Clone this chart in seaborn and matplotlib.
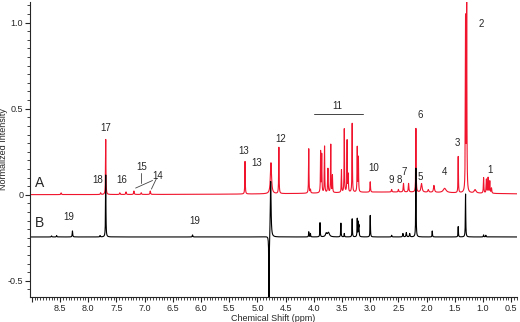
import numpy as np
import pandas as pd
import seaborn as sns
import matplotlib.pyplot as plt
from matplotlib.ticker import MultipleLocator, FuncFormatter

# peak lists (ppm, height, half width in ppm)
a_ppm = [0.85, 0.88, 0.91, 0.94, 0.99, 1.14, 1.29, 1.31, 1.44, 1.68, 1.87, 1.97, 2.09, 2.19,
         2.32, 2.41, 2.50, 2.62, 3.00, 3.21, 3.23, 3.32, 3.39, 3.41, 3.46, 3.51, 3.67,
         3.70, 3.75, 3.81, 3.86, 3.88, 4.06, 4.09, 4.62, 4.76, 5.22,
         6.90, 7.06, 7.19, 7.33, 7.44, 7.69, 7.78, 8.48, 2.6]
a_height = [0.03, 0.07, 0.09, 0.08, 0.09, 0.02, 1.08, 1.0, 0.21, 0.025, 0.04, 0.015, 0.05, 0.37,
            0.05, 0.05, 0.015, 0.015, 0.06, 0.2, 0.26, 0.4, 0.1, 0.3, 0.37, 0.13, 0.1,
            0.28, 0.14, 0.27, 0.22, 0.24, 0.02, 0.26, 0.27, 0.18, 0.19,
            0.02, 0.01, 0.02, 0.015, 0.01, 0.32, 0.01, 0.01, 0.016]
a_width = [0.006, 0.005, 0.005, 0.005, 0.005, 0.02, 0.004, 0.004, 0.004, 0.03, 0.01, 0.01, 0.012, 0.004,
           0.006, 0.006, 0.006, 0.006, 0.005, 0.004, 0.004, 0.004, 0.004, 0.004, 0.004, 0.004, 0.004,
           0.004, 0.005, 0.004, 0.004, 0.004, 0.005, 0.004, 0.004, 0.012, 0.004,
           0.006, 0.006, 0.006, 0.006, 0.006, 0.004, 0.006, 0.006, 1.6]

b_ppm = [0.95, 0.99, 1.31, 1.44, 1.90, 2.19, 2.30, 2.36, 2.42, 2.62, 3.00, 3.20, 3.21, 3.23,
         3.32, 3.46, 3.52, 3.74, 3.78, 3.89, 4.06, 4.09, 4.765, 4.795,
         6.15, 7.69, 7.79, 8.28, 8.56, 8.65]
b_height = [0.01, 0.012, 0.25, 0.06, 0.035, 0.40, 0.02, 0.025, 0.02, 0.01, 0.125, 0.06, 0.08, 0.105,
            0.105, 0.02, 0.08, 0.025, 0.02, 0.083, 0.02, 0.03, 0.33, -0.45,
            0.012, 0.36, 0.008, 0.035, 0.008, 0.006]
b_width = [0.005, 0.005, 0.004, 0.004, 0.004, 0.004, 0.006, 0.006, 0.006, 0.005, 0.004, 0.004, 0.004, 0.004,
           0.004, 0.004, 0.004, 0.02, 0.015, 0.004, 0.004, 0.004, 0.008, 0.004,
           0.005, 0.004, 0.005, 0.005, 0.005, 0.005]
b_offset = -0.245

labels = ['1', '2', '3', '4', '5', '6', '7', '8', '9', '10', '11', '12', '13', '13',
          '14', '15', '16', '17', '18', '19', '19']
label_x = [0.88, 1.04, 1.46, 1.69, 2.12, 2.12, 2.40, 2.48, 2.62, 2.94, 3.58, 4.59, 5.25, 5.02,
           6.77, 7.05, 7.41, 7.69, 7.84, 8.35, 6.12]
label_y = [0.145, 0.99, 0.30, 0.134, 0.106, 0.465, 0.135, 0.083, 0.083, 0.155, 0.513, 0.324, 0.252, 0.184,
           0.11, 0.16, 0.083, 0.39, 0.083, -0.13, -0.155]


def spectrum(x, ppm, height, width):
    y = np.zeros_like(x)
    for p, h, w in zip(ppm, height, width):
        y += h / (1 + ((x - p) / w) ** 2)
    return y


x = np.linspace(0.4, 9.03, 12000)
df_a = pd.DataFrame({'ppm': x, 'intensity': spectrum(x, a_ppm, a_height, a_width)})
df_b = pd.DataFrame({'ppm': x, 'intensity': spectrum(x, b_ppm, b_height, b_width) + b_offset})

sns.set_style('ticks')
plt.rcParams['font.family'] = ['Liberation Sans', 'DejaVu Sans']

fig = plt.figure(figsize=(5.2, 3.22), dpi=100)
ax = fig.add_axes([0.058, 0.078, 0.936, 0.916])

sns.lineplot(data=df_a, x='ppm', y='intensity', color='#f0142d', lw=0.8, ax=ax, sort=False)
sns.lineplot(data=df_b, x='ppm', y='intensity', color='black', lw=0.8, ax=ax, sort=False)

ax.set_xlim(9.03, 0.4)
ax.set_ylim(-0.593, 1.12)
ax.xaxis.set_major_locator(MultipleLocator(0.5))
ax.xaxis.set_minor_locator(MultipleLocator(0.05))
ax.yaxis.set_major_locator(MultipleLocator(0.5))
ax.yaxis.set_minor_locator(MultipleLocator(0.05))
ax.xaxis.set_major_formatter(FuncFormatter(lambda v, p: '' if v > 8.9 else '%.1f' % v))
ax.yaxis.set_major_formatter(FuncFormatter(lambda v, p: '0' if abs(v) < 1e-9 else '%.1f' % v))
ax.tick_params(which='major', length=3.5, width=0.8, labelsize=6.5, pad=1.5)
ax.tick_params(which='minor', length=2, width=0.6)
for s in ['left', 'bottom']:
    ax.spines[s].set_linewidth(0.8)
sns.despine(ax=ax)

ax.set_xlabel('Chemical Shift (ppm)', fontsize=6.5, labelpad=0.5)
ax.set_ylabel('Normalized Intensity', fontsize=6.5)
ax.yaxis.set_label_coords(-0.046, 0.5)

for t, lx, ly in zip(labels, label_x, label_y):
    ax.text(lx, ly, t, fontsize=7, ha='center', va='center')
ax.text(8.87, 0.068, 'A', fontsize=10, ha='center', va='center')
ax.text(8.87, -0.165, 'B', fontsize=10, ha='center', va='center')

# bracket for 11 and pointer lines for 14/15
ax.plot([3.99, 3.12], [0.469, 0.469], color='#444444', lw=0.7)
ax.plot([7.06, 7.06], [0.126, 0.068], color='#444444', lw=0.6)
ax.plot([7.16, 6.86], [0.039, 0.083], color='#444444', lw=0.6)
ax.plot([6.79, 6.88], [0.095, 0.033], color='#444444', lw=0.6)

fig.savefig('out.png', dpi=100)
